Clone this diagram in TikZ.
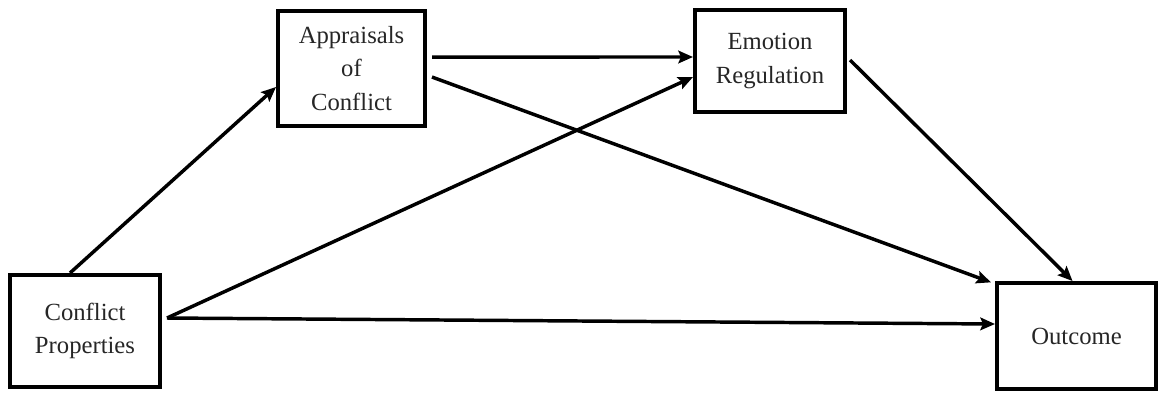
\documentclass[tikz,border=0pt]{standalone}
\usepackage{fontspec}
\setmainfont{Liberation Serif}
\usetikzlibrary{arrows.meta}
\begin{document}
\begin{tikzpicture}[x=0.75pt,y=-0.75pt,
  box/.style={draw=black,line width=3pt,rectangle,align=center,inner sep=0pt,
    font=\fontsize{18.5}{25}\selectfont,text=black!85},
  link/.style={line width=2.6pt,-{Stealth[length=11pt,width=9.5pt,inset=2pt]}}]
\useasboundingbox (0,0) rectangle (1170,408);
\node[box,minimum width=112.5pt,minimum height=84pt] (cp) at (85,331) {Conflict\\Properties};
\node[box,minimum width=110.25pt,minimum height=86.25pt] (ap) at (351.5,68.5) {Appraisals\\of\\Conflict};
\node[box,minimum width=112.5pt,minimum height=76.5pt] (er) at (770,61) {Emotion\\Regulation};
\node[box,minimum width=119.25pt,minimum height=79.5pt] (out) at (1076.5,336) {Outcome};
\draw[link] ([xshift=-11.25pt]cp.north) -- ([yshift=-13.9pt]ap.west);
\draw[link] ([xshift=3.75pt,yshift=8.6pt]ap.east) -- ([yshift=3pt]er.west);
\draw[link] ([xshift=3.75pt,yshift=-6.4pt]ap.east) -- ([xshift=-3pt,yshift=-1pt]out.north west);
\draw[link] ([xshift=3.75pt,yshift=9.75pt]cp.east) -- ([yshift=-12pt]er.west);
\draw[link] ([xshift=3.75pt,yshift=9.75pt]cp.east) -- ([yshift=9pt]out.west);
\draw[link] ([xshift=2.25pt,yshift=0.75pt]er.east) -- ([xshift=-3pt]out.north);
\end{tikzpicture}
\end{document}
